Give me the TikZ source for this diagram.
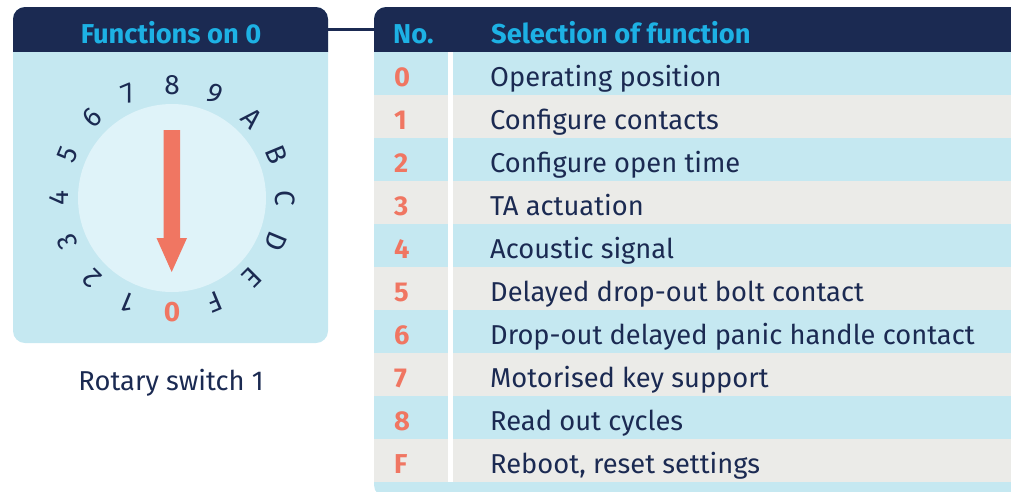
\documentclass[tikz,border=0pt]{standalone}
\usepackage{fontspec}
\setmainfont{Fira Sans}

\definecolor{navy}{HTML}{1B2A52}
\definecolor{headcyan}{HTML}{1DB1E4}
\definecolor{paleblue}{HTML}{C5E8F1}
\definecolor{dialblue}{HTML}{DFF3F9}
\definecolor{salmon}{HTML}{F07662}
\definecolor{rowgray}{HTML}{EBEBE8}

\tikzset{
  headtext/.style={font=\fontsize{27.3}{32}\selectfont\bfseries, text=headcyan, inner sep=0pt},
  rowtext/.style={font=\fontsize{27.3}{32}\selectfont, text=navy, inner sep=0pt, anchor=base west},
  numtext/.style={font=\fontsize{27.3}{32}\selectfont\bfseries, text=salmon, inner sep=0pt, anchor=base west},
  dialtext/.style={font=\fontsize{28}{32}\selectfont, text=navy, inner sep=0pt}
}

\begin{document}
\begin{tikzpicture}[x=1pt,y=-1pt]
  \useasboundingbox (0,0) rectangle (1011,491);

  % left panel with the dial
  \fill[paleblue, rounded corners=12pt] (13,7) rectangle (328,343);
  \fill[navy, rounded corners=12pt] (13,7) rectangle (328,64);
  \fill[paleblue] (13,52) rectangle (328,70);
  \node[headtext, minimum width=315pt, minimum height=45pt] (fhead) at (170.5,29.5) {};
  \node[headtext, anchor=base] (ftitle) at (171,43) {Functions on 0};
  \fill[dialblue] (172,198) circle (94);
  \foreach \d [count=\i] in {1,2,3,4,5,6,7,8,9,A,B,C,D,E,F}
    \node[dialtext, rotate={-180-22.5*\i}] (d\d) at ({172+113*cos(-90-22.5*\i)},{198-113*sin(-90-22.5*\i)}) {\d};
  \node[dialtext, text=salmon, font=\fontsize{28}{32}\selectfont\bfseries] (d0) at (172,312) {0};
  \fill[salmon] (163.5,130) -- (180,130) -- (180,238) -- (187,238) -- (171.7,272)
        -- (156.5,238) -- (163.5,238) -- cycle;
  \node[rowtext, anchor=base] (caption) at (171,390) {Rotary switch 1};

  % table of functions
  \begin{scope}
    \clip (0,0) rectangle (1011,491);
    \fill[paleblue, rounded corners=12pt] (374,7) rectangle (1030,497);
    \fill[navy, rounded corners=12pt] (374,7) rectangle (1030,64);
    \fill[paleblue] (374,52) rectangle (1030,70);
    \foreach \n/\txt [count=\i from 0] in {0/Operating position, 1/Configure contacts,
        2/Configure open time, 3/TA actuation, 4/Acoustic signal,
        5/Delayed drop-out bolt contact, 6/Drop-out delayed panic handle contact,
        7/Motorised key support, 8/Read out cycles, F/{Reboot, reset settings}} {
      \pgfmathsetmacro\yy{52+43*\i}
      \ifodd\i \fill[rowgray] (374,\yy) rectangle (1030,\yy+43); \fi
      \node[numtext] (n\i) at (394,\yy+34.5) {\n};
      \node[rowtext] (t\i) at (490,\yy+34.5) {\txt};
    }
    \draw[white, line width=5pt] (450,52) -- (450,482);
  \end{scope}
  \node[minimum width=637pt, minimum height=45pt, inner sep=0pt] (thead) at (692.5,29.5) {};
  \node[headtext, anchor=base west] (hno) at (393,43) {No.};
  \node[headtext, anchor=base west] (hsel) at (491,43) {Selection of function};

  \draw[navy, line width=3pt] (fhead.east) -- (thead.west);
\end{tikzpicture}
\end{document}
